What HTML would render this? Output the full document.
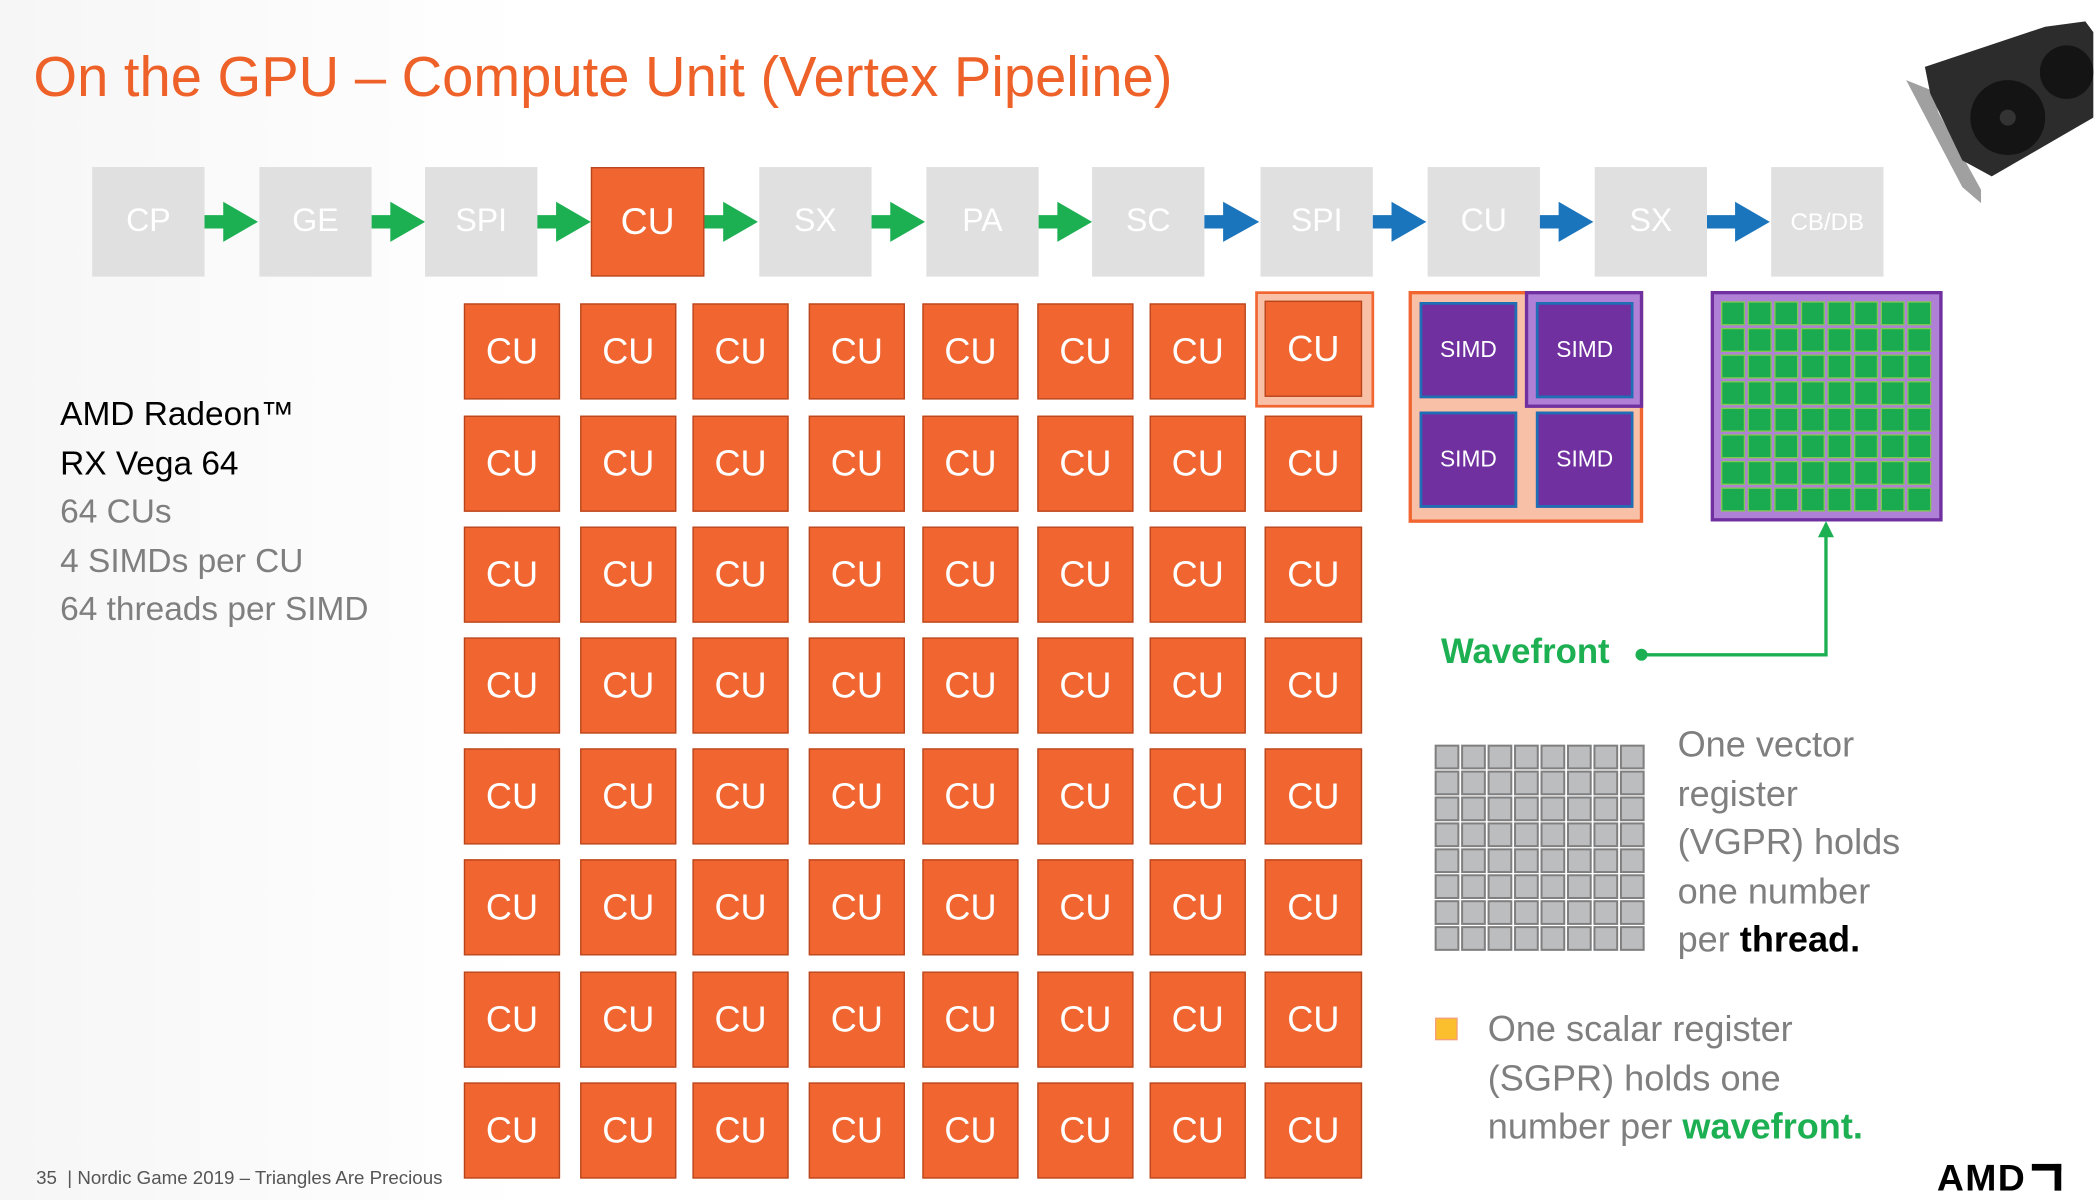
<!DOCTYPE html>
<html><head><meta charset="utf-8"><style>
html,body{margin:0;padding:0;background:#fff;overflow:hidden}
#s{position:absolute;left:0;top:0;width:1568px;height:898px;transform:scale(1.33673,1.33630);transform-origin:0 0;font-family:"Liberation Sans",sans-serif;background:linear-gradient(90deg,#f6f6f6 0,#fff 25%,#fff 100%)}
.a{position:absolute}
.p{position:absolute;top:125px;width:84px;height:82px;background:#e1e0e1;color:#fff;font-size:24px;display:flex;align-items:center;justify-content:center}
.cu{position:absolute;width:71px;height:71px;background:#f06530;border:1px solid #b8461d;color:#fff;font-size:27px;display:flex;align-items:center;justify-content:center;box-sizing:border-box}
.simd{position:absolute;width:73px;height:72px;background:#7030a0;border:2px solid #1f6fb5;box-sizing:border-box;color:#fff;font-size:17px;display:flex;align-items:center;justify-content:center}
.t{position:absolute;font-size:27px;color:#7f7f7f;line-height:36.5px}
</style></head><body><div id="s">
<div class="a" style="left:25px;top:34px;font-size:42px;color:#ee6128">On the GPU – Compute Unit (Vertex Pipeline)</div>
<svg class="a" style="left:1420px;top:10px" width="148" height="145" viewBox="0 0 148 145">
<polygon points="6,50 26,58 30,74 62,132 62,142 48,130" fill="#a0a0a0"/>
<polygon points="20,40 110,10 140,6 146,14 146,78 70,122 48,110 24,60" fill="#2c2c2c"/>
<circle cx="82" cy="78" r="28" fill="#141414"/><circle cx="126" cy="44" r="20" fill="#141414"/>
<circle cx="82" cy="78" r="6" fill="#333"/>
</svg>
<div class="p" style="left:69px">CP</div>
<div class="p" style="left:194px">GE</div>
<div class="p" style="left:318px">SPI</div>
<div class="p" style="left:442px;width:85px;background:#f06530;border:1px solid #b8461d;box-sizing:border-box;font-size:28px">CU</div>
<div class="p" style="left:568px">SX</div>
<div class="p" style="left:693px">PA</div>
<div class="p" style="left:817px">SC</div>
<div class="p" style="left:943px">SPI</div>
<div class="p" style="left:1068px">CU</div>
<div class="p" style="left:1193px">SX</div>
<div class="p" style="left:1325px;font-size:18px">CB/DB</div>
<svg class="a" style="left:0;top:0" width="1568" height="898">
<polygon points="153,161 167,161 167,151 193,166 167,181 167,171 153,171" fill="#1db053"/>
<polygon points="278,161 292,161 292,151 318,166 292,181 292,171 278,171" fill="#1db053"/>
<polygon points="402,161 416,161 416,151 442,166 416,181 416,171 402,171" fill="#1db053"/>
<polygon points="527,161 541,161 541,151 567,166 541,181 541,171 527,171" fill="#1db053"/>
<polygon points="652,161 666,161 666,151 692,166 666,181 666,171 652,171" fill="#1db053"/>
<polygon points="777,161 791,161 791,151 817,166 791,181 791,171 777,171" fill="#1db053"/>
<polygon points="901,161 915,161 915,151 942,166 915,181 915,171 901,171" fill="#1b75bc"/>
<polygon points="1027,161 1041,161 1041,151 1067,166 1041,181 1041,171 1027,171" fill="#1b75bc"/>
<polygon points="1152,161 1166,161 1166,151 1192,166 1166,181 1166,171 1152,171" fill="#1b75bc"/>
<polygon points="1277,161 1298,161 1298,151 1324,166 1298,181 1298,171 1277,171" fill="#1b75bc"/>
<rect x="940" y="219" width="87" height="85" fill="#f8c0a6" stroke="#f06530" stroke-width="2"/>
<rect x="1055" y="219" width="173" height="171" fill="#f8c0a6" stroke="#f06530" stroke-width="2.5"/>
<rect x="1142" y="219" width="86" height="85" fill="#b07fd6" stroke="#7030a0" stroke-width="2.5"/>
<rect x="1281" y="219" width="171" height="170" fill="#b07fd6" stroke="#7030a0" stroke-width="2.5"/>
<polyline points="1228,490 1366,490 1366,400" fill="none" stroke="#1db053" stroke-width="2.5"/>
<polygon points="1360,402 1366,390 1372,402" fill="#1db053"/>
<circle cx="1228" cy="490" r="4.5" fill="#1db053"/>
<rect x="1074" y="762" width="16" height="16" fill="#fbbf2e" stroke="#f4a07a" stroke-width="1"/>
<g id="gg"></g><g id="rg"></g>
</svg>
<div id="cus"></div>
<div class="simd" style="left:1062px;top:226px">SIMD</div>
<div class="simd" style="left:1149px;top:226px">SIMD</div>
<div class="simd" style="left:1062px;top:308px">SIMD</div>
<div class="simd" style="left:1149px;top:308px">SIMD</div>
<div class="a" style="left:1078px;top:472px;font-size:26px;font-weight:bold;color:#1db053">Wavefront</div>
<div class="a" style="left:45px;top:292px;font-size:25px;line-height:36.5px;color:#7f7f7f"><span style="color:#000">AMD Radeon™<br>RX Vega 64</span><br>64 CUs<br>4 SIMDs per CU<br>64 threads per SIMD</div>
<div class="t" style="left:1255px;top:539px">One vector<br>register<br>(VGPR) holds<br>one number<br>per <b style="color:#000">thread.</b></div>
<div class="t" style="left:1113px;top:752px">One scalar register<br>(SGPR) holds one<br>number per <b style="color:#1db053">wavefront.</b></div>
<div class="a" style="left:27px;top:873px;font-size:14px;color:#555">35 &nbsp;| Nordic Game 2019 – Triangles Are Precious</div>
<div class="a" style="left:1449px;top:866px;font-size:28px;font-weight:bold;color:#000;letter-spacing:1px">AMD<span style="display:inline-block;width:22px;height:20px;border:5px solid #000;border-left:none;border-bottom:none;margin-left:4px;box-sizing:border-box"></span></div>
</div>
<script>
var xs=[347,434,518,605,690,776,860,946],ys=[227,311,394,477,560,643,727,810],h='';
for(var r=0;r<8;r++)for(var c=0;c<8;c++)h+='<div class="cu" style="left:'+xs[c]+'px;top:'+(ys[r]+(r==0&&c==7?-2:0))+'px;width:'+(c==7?73:72)+'px;height:72px">CU</div>';
document.getElementById('cus').innerHTML=h;
var ns='http://www.w3.org/2000/svg',g=document.getElementById('gg'),rg=document.getElementById('rg');
for(var r=0;r<8;r++)for(var c=0;c<8;c++){
var e=document.createElementNS(ns,'rect');e.setAttribute('x',1288+c*19.9);e.setAttribute('y',226+r*19.9);e.setAttribute('width',17);e.setAttribute('height',17);e.setAttribute('fill','#1aab50');e.setAttribute('stroke','#7ccb4e');g.appendChild(e);
var f=document.createElementNS(ns,'rect');f.setAttribute('x',1074+c*19.8);f.setAttribute('y',558+r*19.4);f.setAttribute('width',17);f.setAttribute('height',17);f.setAttribute('fill','#bcbdbf');f.setAttribute('stroke','#7f7f7f');f.setAttribute('stroke-width','1.5');rg.appendChild(f);}
</script>
</body></html>
